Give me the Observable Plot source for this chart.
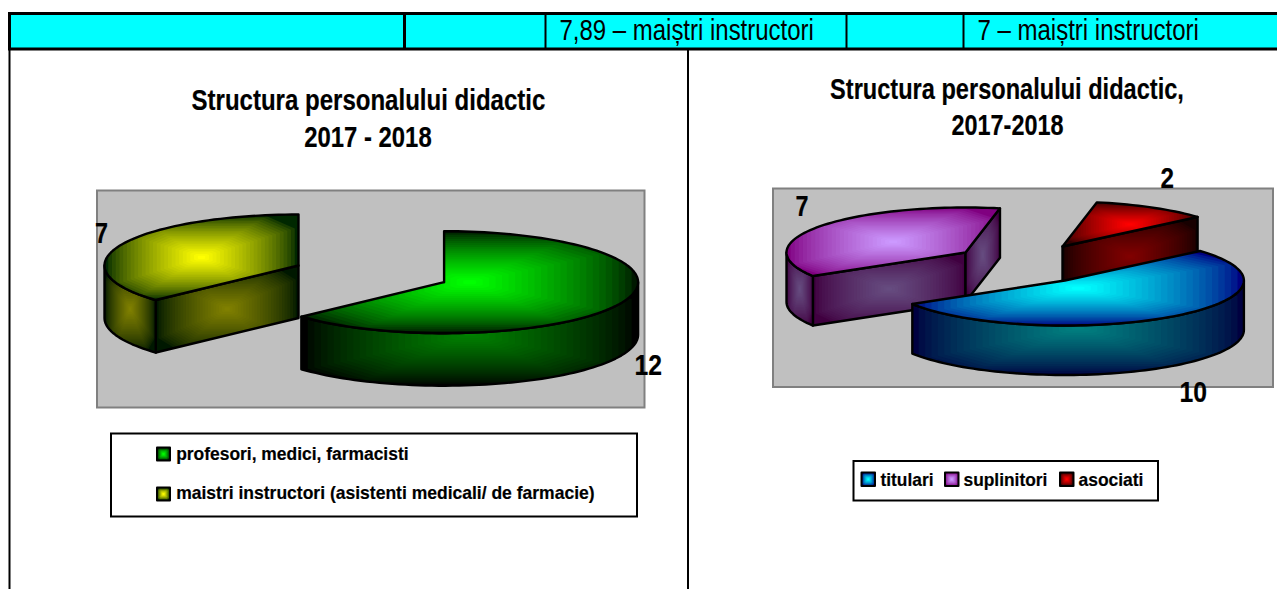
<!DOCTYPE html>
<html><head><meta charset="utf-8">
<script src="https://cdn.jsdelivr.net/npm/d3@7"></script>
<script src="https://cdn.jsdelivr.net/npm/@observablehq/plot@0.6"></script>
<style>html,body{margin:0;padding:0;background:#fff;overflow:hidden}svg{display:block}</style>
</head><body><div id="chart"></div>
<script>
// ---- data ----
const leftTitle = ["Structura personalului didactic", "2017 - 2018"];
const rightTitle = ["Structura personalului didactic,", "2017-2018"];
const leftCategories = ["profesori, medici, farmacisti", "maistri instructori (asistenti medicali/ de farmacie)"];
const leftValues = [12, 7];
const rightCategories = ["titulari", "suplinitori", "asociati"];
const rightValues = [10, 7, 2];
const headerCells = ["7,89 – maiștri instructori", "7 – maiștri instructori"];

// ---- layout and style ----
const W = 1277, H = 589;
const font = "'Liberation Sans', Arial, sans-serif";
const shades = {
  green:  {top: ["#001800", "#00ff00"], side: ["#000000", "#008000"]},
  yellow: {top: ["#002800", "#ffff00"], side: ["#001800", "#808000"]},
  blue:   {top: ["#000080", "#00ffff"], side: ["#000040", "#008080"]},
  purple: {top: ["#800080", "#cc99ff"], side: ["#400040", "#664c80"]},
  red:    {top: ["#300000", "#ff0000"], side: ["#180000", "#800000"]}
};
const leftPie = {start: 0, rx: 194, ry: 51, h: 52.5, order: [1, 0],
  centers: [[443.6, 281.7], [298, 265]], shade: ["green", "yellow"]};
const rightPie = {start: 49, rx: 179, ry: 45, h: 49.5, order: [1, 2, 0],
  centers: [[1064.4, 280], [965, 252], [1062, 246]], shade: ["blue", "purple", "red"]};

// ---- geometry helpers ----
const rad = d => d * Math.PI / 180;
const arc = (c, p, a0, a1, dy = 0) => {
  const n = Math.max(1, Math.ceil(Math.abs(a1 - a0) / 2)), out = [];
  for (let i = 0; i <= n; ++i) {
    const a = rad(a0 + (a1 - a0) * i / n);
    out.push([c[0] + p.rx * Math.sin(a), c[1] - p.ry * Math.cos(a) + dy]);
  }
  return out;
};
// clip a polygon to the half planes nx*x + ny*y <= d
function clipHalf(pts, nx, ny, d) {
  const out = [], f = q => nx * q[0] + ny * q[1] - d;
  pts.forEach((q, i) => {
    const r = pts[(i + 1) % pts.length], fq = f(q), fr = f(r);
    if (fq <= 0) out.push(q);
    if ((fq <= 0) !== (fr <= 0)) {
      const t = fq / (fq - fr);
      out.push([q[0] + (r[0] - q[0]) * t, q[1] + (r[1] - q[1]) * t]);
    }
  });
  return out;
}
function clipBand(poly, mx, my, hw, hh) {
  // a rectangle with cut corners, the shape of the banded shading
  const planes = [[1, 0, 1], [-1, 0, 1], [0, 1, 1], [0, -1, 1],
    [1, 1, 1.7], [1, -1, 1.7], [-1, 1, 1.7], [-1, -1, 1.7]];
  let p = poly;
  for (const [a, b, c] of planes) {
    if (!p.length) break;
    const nx = a / hw, ny = b / hh;
    p = clipHalf(p, nx, ny, c + nx * mx + ny * my);
  }
  return p;
}
const marks = [];
let faceId = 0;
function face(poly, colors, sw = 2.4, bands = 26) {
  const xs = poly.map(d => d[0]), ys = poly.map(d => d[1]);
  const [x0, x1] = d3.extent(xs), [y0, y1] = d3.extent(ys);
  const mx = (x0 + x1) / 2, my = (y0 + y1) / 2;
  const mix = d3.interpolateRgb(colors[0], colors[1]);
  const pts = [];
  for (let k = 0; k < bands; ++k) {
    const s = 1 - k / bands, fill = mix(Math.pow(k / (bands - 1), 0.72)), id = faceId++;
    const region = k === 0 ? poly : clipBand(poly, mx, my, s * (x1 - x0) / 2, s * (y1 - y0) / 2);
    region.forEach(d => pts.push({x: d[0], y: d[1], id, fill}));
  }
  marks.push(Plot.line(pts, {x: "x", y: "y", z: "id", fill: "fill", stroke: null}));
  const outline = [...poly, poly[0]];
  marks.push(Plot.line(outline, {x: d => d[0], y: d => d[1], stroke: "#000", strokeWidth: sw, curve: "linear", strokeLinejoin: "round"}));
}
function pie(values, p) {
  const total = d3.sum(values);
  const angles = [];
  let a = p.start;
  values.forEach(v => { angles.push([a, a + v / total * 360]); a += v / total * 360; });
  p.order.forEach(i => {
    const [a0, a1] = angles[i], c = p.centers[i], col = shades[p.shade[i]];
    const radial = ang => {
      const e = arc(c, p, ang, ang)[0];
      return [c, e, [e[0], e[1] + p.h], [c[0], c[1] + p.h]];
    };
    if (Math.sin(rad(a0)) < -1e-6) face(radial(a0), col.side);
    if (Math.sin(rad(a1)) > 1e-6) face(radial(a1), col.side);
    const s0 = Math.max(a0, 90), s1 = Math.min(a1, 270);
    if (s1 > s0) face([...arc(c, p, s0, s1), ...arc(c, p, s1, s0, p.h)], col.side);
    face([c, ...arc(c, p, a0, a1)], col.top);
  });
}
const swatch = (x, y, s, colors) => face([[x, y], [x + s, y], [x + s, y + s], [x, y + s]], colors, 2, 8);

// ---- table and backgrounds ----
marks.push(Plot.rect([{}], {x1: () => 8, x2: () => W, y1: () => 13, y2: () => 48, fill: "#00ffff"}));
marks.push(Plot.ruleY([13, 48.5], {y: d => d, x1: () => 8, x2: () => W, stroke: "#000", strokeWidth: 3}));
[[9, 3], [404, 3], [545, 2], [846, 2], [963, 2]].forEach(([x, w]) =>
  marks.push(Plot.ruleX([x], {y1: () => 12, y2: () => 49, stroke: "#000", strokeWidth: w})));
[9, 687.5].forEach(x => marks.push(Plot.ruleX([x], {y1: () => 48, y2: () => H, stroke: "#000", strokeWidth: 2})));
[[97, 644.5, 190.5, 407.5], [773, 1273, 188.5, 387]].forEach(([x1, x2, y1, y2]) =>
  marks.push(Plot.rect([{}], {x1: () => x1, x2: () => x2, y1: () => y1, y2: () => y2, fill: "#c0c0c0", stroke: "#808080", strokeWidth: 2})));

// ---- pies ----
pie(leftValues, leftPie);
pie(rightValues, rightPie);

// ---- legends ----
[[111, 637, 433.5, 516.5], [853.5, 1158, 461, 500.5]].forEach(([x1, x2, y1, y2]) =>
  marks.push(Plot.rect([{}], {x1: () => x1, x2: () => x2, y1: () => y1, y2: () => y2, fill: "#fff", stroke: "#000", strokeWidth: 2})));
swatch(156.5, 447, 13, ["#001800", "#00ff00"]);
swatch(156.5, 487, 13, ["#002800", "#ffff00"]);
swatch(861, 472, 13.5, ["#000080", "#00ffff"]);
swatch(944.5, 472, 13.5, ["#800080", "#cc99ff"]);
swatch(1059.5, 472, 13.5, ["#300000", "#ff0000"]);

// ---- texts: x is the left edge, w the drawn width, y the baseline ----
const texts = [
  {t: leftTitle[0], x: 191, y: 109.5, w: 354, s: 30},
  {t: leftTitle[1], x: 303.7, y: 146, w: 127.5, s: 30},
  {t: rightTitle[0], x: 829.6, y: 98.5, w: 354, s: 30},
  {t: rightTitle[1], x: 951, y: 134, w: 112, s: 30},
  {t: String(leftValues[1]), x: 94.6, y: 242, w: 12.5, s: 30},
  {t: String(leftValues[0]), x: 634, y: 374.5, w: 27.5, s: 30},
  {t: String(rightValues[2]), x: 1160, y: 187.5, w: 13.5, s: 30},
  {t: String(rightValues[1]), x: 795, y: 215.5, w: 13, s: 30},
  {t: String(rightValues[0]), x: 1179, y: 401.5, w: 27.5, s: 30},
  {t: leftCategories[0], x: 175.7, y: 459, w: 232.5, s: 19},
  {t: leftCategories[1], x: 175.7, y: 498.5, w: 418.5, s: 19},
  {t: rightCategories[0], x: 880, y: 485, w: 53, s: 19},
  {t: rightCategories[1], x: 963, y: 485, w: 84, s: 19},
  {t: rightCategories[2], x: 1078, y: 485, w: 65, s: 19}
];
const headers = [
  {t: headerCells[0], x: 559, y: 39.5, w: 254.5, s: 30},
  {t: headerCells[1], x: 977, y: 39.5, w: 221.5, s: 30}
];
const textOpts = {x: "x", y: "y", text: "t", fontSize: "s", textAnchor: "start", lineAnchor: "bottom", fill: "#000", fontFamily: font};
marks.push(Plot.text(texts, {...textOpts, fontWeight: "bold", stroke: "#000", strokeWidth: 0.2}));
marks.push(Plot.text(headers, {...textOpts}));

const chart = Plot.plot({
  width: W, height: H, margin: 0,
  x: {domain: [0, W], range: [0, W], axis: null},
  y: {domain: [0, H], range: [0, H], axis: null},
  style: {background: "#fff", fontFamily: font},
  marks
});
document.getElementById("chart").append(chart);
// squeeze each text horizontally to the drawn width of the compressed original
const widths = new Map([...texts, ...headers].map(d => [d.t, d.w]));
chart.querySelectorAll("text").forEach(el => {
  const w = widths.get(el.textContent);
  if (!w) return;
  const k = w / el.getComputedTextLength();
  el.setAttribute("transform", `${el.getAttribute("transform") || ""} scale(${k},1)`);
});
</script></body></html>
